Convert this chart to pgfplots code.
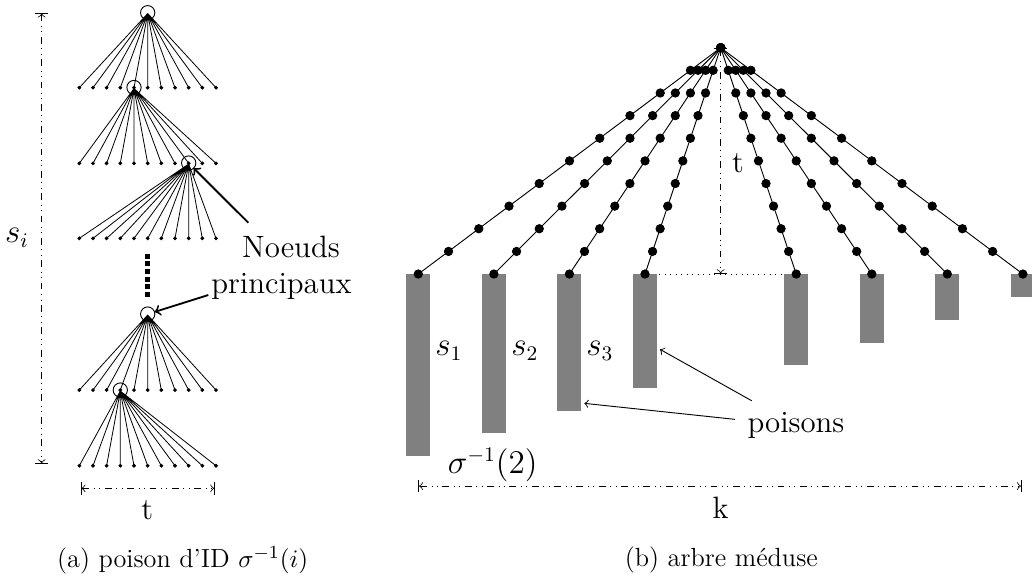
\documentclass[border=0pt]{standalone}
\usepackage{pgfplots}
\pgfplotsset{compat=1.18}
\newcommand{\dfont}{\fontsize{13.4}{16}\selectfont}
\newcommand{\cfont}{\fontsize{11.4}{13.5}\selectfont}
\begin{document}
\begin{tikzpicture}
\begin{axis}[
  width=448.1pt, height=252.3pt, scale only axis,
  xmin=0, xmax=1032, ymin=0, ymax=581, y dir=reverse,
  hide axis, clip=false,
]
% ---------- (a) fans ----------
\addplot[black, line width=0.35pt, line join=round, mark=none] coordinates {(79.3,87.7)(147.7,13.5)(93.0,87.7)(147.7,13.5)(106.6,87.7)(147.7,13.5)(120.3,87.7)(147.7,13.5)(134.0,87.7)(147.7,13.5)(147.7,87.7)(147.7,13.5)(161.3,87.7)(147.7,13.5)(175.0,87.7)(147.7,13.5)(188.7,87.7)(147.7,13.5)(202.3,87.7)(147.7,13.5)(216.0,87.7)};
\addplot[black, line width=0.35pt, line join=round, mark=none] coordinates {(79.3,163.3)(134.0,88.5)(93.0,163.3)(134.0,88.5)(106.6,163.3)(134.0,88.5)(120.3,163.3)(134.0,88.5)(134.0,163.3)(134.0,88.5)(147.7,163.3)(134.0,88.5)(161.3,163.3)(134.0,88.5)(175.0,163.3)(134.0,88.5)(188.7,163.3)(134.0,88.5)(202.3,163.3)(134.0,88.5)(216.0,163.3)};
\addplot[black, line width=0.35pt, line join=round, mark=none] coordinates {(79.3,238.3)(188.7,164.0)(93.0,238.3)(188.7,164.0)(106.6,238.3)(188.7,164.0)(120.3,238.3)(188.7,164.0)(134.0,238.3)(188.7,164.0)(147.7,238.3)(188.7,164.0)(161.3,238.3)(188.7,164.0)(175.0,238.3)(188.7,164.0)(188.7,238.3)(188.7,164.0)(202.3,238.3)(188.7,164.0)(216.0,238.3)};
\addplot[black, line width=0.35pt, line join=round, mark=none] coordinates {(79.3,390.0)(147.7,315.0)(93.0,390.0)(147.7,315.0)(106.6,390.0)(147.7,315.0)(120.3,390.0)(147.7,315.0)(134.0,390.0)(147.7,315.0)(147.7,390.0)(147.7,315.0)(161.3,390.0)(147.7,315.0)(175.0,390.0)(147.7,315.0)(188.7,390.0)(147.7,315.0)(202.3,390.0)(147.7,315.0)(216.0,390.0)};
\addplot[black, line width=0.35pt, line join=round, mark=none] coordinates {(79.3,465.7)(120.3,391.0)(93.0,465.7)(120.3,391.0)(106.6,465.7)(120.3,391.0)(120.3,465.7)(120.3,391.0)(134.0,465.7)(120.3,391.0)(147.7,465.7)(120.3,391.0)(161.3,465.7)(120.3,391.0)(175.0,465.7)(120.3,391.0)(188.7,465.7)(120.3,391.0)(202.3,465.7)(120.3,391.0)(216.0,465.7)};
% leaves
\addplot[only marks, mark=*, mark size=0.6pt, black] coordinates {
(79.3,87.7)(93.0,87.7)(106.6,87.7)(120.3,87.7)(134.0,87.7)(147.7,87.7)(161.3,87.7)(175.0,87.7)(188.7,87.7)(202.3,87.7)(216.0,87.7)
(79.3,163.3)(93.0,163.3)(106.6,163.3)(120.3,163.3)(134.0,163.3)(147.7,163.3)(161.3,163.3)(175.0,163.3)(188.7,163.3)(202.3,163.3)(216.0,163.3)
(79.3,238.3)(93.0,238.3)(106.6,238.3)(120.3,238.3)(134.0,238.3)(147.7,238.3)(161.3,238.3)(175.0,238.3)(188.7,238.3)(202.3,238.3)(216.0,238.3)
(79.3,390.0)(93.0,390.0)(106.6,390.0)(120.3,390.0)(134.0,390.0)(147.7,390.0)(161.3,390.0)(175.0,390.0)(188.7,390.0)(202.3,390.0)(216.0,390.0)
(79.3,465.7)(93.0,465.7)(106.6,465.7)(120.3,465.7)(134.0,465.7)(147.7,465.7)(161.3,465.7)(175.0,465.7)(188.7,465.7)(202.3,465.7)(216.0,465.7)};
% principal-node circles
\addplot[only marks, mark=o, mark size=3.1pt, black, mark options={line width=0.4pt}] coordinates {(147.7,12.7)(134.0,87.5)(188.7,163.0)(147.7,314.0)(120.3,390.0)};
% vertical dots
\addplot[only marks, mark=square*, mark size=0.85pt, black] coordinates {(147.7,256.0)(147.7,263.7)(147.7,271.3)(147.7,279.0)(147.7,286.7)(147.7,294.3)};
% arrows to principal nodes
\addplot[black, line width=0.8pt, ->] coordinates {(248.3,222.7)(193.5,168.0)};
\addplot[black, line width=0.8pt, ->] coordinates {(208.3,295.0)(154.6,311.9)};
% dimension lines (a)
\addplot[black, line width=0.35pt, |<->|, dash dot dot] coordinates {(41.7,12.7)(41.7,464.0)};
\addplot[black, line width=0.35pt, |<->|, dash dot dot] coordinates {(80.7,488.3)(215.0,488.3)};
% ---------- (b) medusa tree ----------
\addplot[black, line width=0.4pt, mark=*, mark size=1.8pt] coordinates {(720.7,47.7)(690.46,70.3)(660.22,92.96)(629.98,115.6)(599.74,138.2)(569.5,160.85)(539.26,183.5)(509.02,206.1)(478.78,228.7)(448.54,251.4)(418.3,274.0)};
\addplot[black, line width=0.4pt, mark=*, mark size=1.8pt] coordinates {(720.7,47.7)(698.02,70.3)(675.34,92.96)(652.66,115.6)(629.98,138.2)(607.3,160.85)(584.62,183.5)(561.94,206.1)(539.26,228.7)(516.58,251.4)(493.9,274.0)};
\addplot[black, line width=0.4pt, mark=*, mark size=1.8pt] coordinates {(720.7,47.7)(705.57,70.3)(690.44,92.96)(675.31,115.6)(660.18,138.2)(645.05,160.85)(629.92,183.5)(614.79,206.1)(599.66,228.7)(584.53,251.4)(569.4,274.0)};
\addplot[black, line width=0.4pt, mark=*, mark size=1.8pt] coordinates {(720.7,47.7)(713.13,70.3)(705.56,92.96)(697.99,115.6)(690.42,138.2)(682.85,160.85)(675.28,183.5)(667.71,206.1)(660.14,228.7)(652.57,251.4)(645.0,274.0)};
\addplot[black, line width=0.4pt, mark=*, mark size=1.8pt] coordinates {(720.7,47.7)(728.25,70.3)(735.8,92.96)(743.35,115.6)(750.9,138.2)(758.45,160.85)(766.0,183.5)(773.55,206.1)(781.1,228.7)(788.65,251.4)(796.2,274.0)};
\addplot[black, line width=0.4pt, mark=*, mark size=1.8pt] coordinates {(720.7,47.7)(735.81,70.3)(750.92,92.96)(766.03,115.6)(781.14,138.2)(796.25,160.85)(811.36,183.5)(826.47,206.1)(841.58,228.7)(856.69,251.4)(871.8,274.0)};
\addplot[black, line width=0.4pt, mark=*, mark size=1.8pt] coordinates {(720.7,47.7)(743.36,70.3)(766.02,92.96)(788.68,115.6)(811.34,138.2)(834.0,160.85)(856.66,183.5)(879.32,206.1)(901.98,228.7)(924.64,251.4)(947.3,274.0)};
\addplot[black, line width=0.4pt, mark=*, mark size=1.8pt] coordinates {(720.7,47.7)(750.92,70.3)(781.14,92.96)(811.36,115.6)(841.58,138.2)(871.8,160.85)(902.02,183.5)(932.24,206.1)(962.46,228.7)(992.68,251.4)(1022.9,274.0)};
% poison bars
\addplot[fill=gray, draw=none] coordinates {(406.3,274)(430.3,274)(430.3,456.0)(406.3,456.0)};
\addplot[fill=gray, draw=none] coordinates {(481.9,274)(505.9,274)(505.9,433.3)(481.9,433.3)};
\addplot[fill=gray, draw=none] coordinates {(557.4,274)(581.4,274)(581.4,410.7)(557.4,410.7)};
\addplot[fill=gray, draw=none] coordinates {(633.0,274)(657.0,274)(657.0,387.7)(633.0,387.7)};
\addplot[fill=gray, draw=none] coordinates {(784.2,274)(808.2,274)(808.2,365.3)(784.2,365.3)};
\addplot[fill=gray, draw=none] coordinates {(859.8,274)(883.8,274)(883.8,342.7)(859.8,342.7)};
\addplot[fill=gray, draw=none] coordinates {(935.3,274)(959.3,274)(959.3,320.0)(935.3,320.0)};
\addplot[fill=gray, draw=none] coordinates {(1010.9,274)(1032.0,274)(1032.0,297.3)(1010.9,297.3)};
% dotted baseline and dimension t
\addplot[black, line width=0.4pt, dotted] coordinates {(659.0,274.0)(782.0,274.0)};
\addplot[black, line width=0.35pt, |<->|, dash dot dot] coordinates {(720.7,47.7)(720.7,274.0)};
% k dimension
\addplot[black, line width=0.35pt, |<->|, dash dot dot] coordinates {(418.3,486.0)(1021.7,486.0)};
% poison arrows
\addplot[black, line width=0.4pt, ->] coordinates {(735.0,419.3)(584.3,403.3)};
\addplot[black, line width=0.4pt, ->] coordinates {(751.7,400.7)(660.0,349.3)};
% ---------- labels ----------
\node[font=\dfont] at (axis cs:17,238) {$s_i$};
\node[font=\dfont] at (axis cs:147.3,510) {t};
\node[font=\dfont, anchor=base] at (axis cs:291,257.7) {Noeuds};
\node[font=\dfont, anchor=base] at (axis cs:281.5,293) {principaux};
\node[font=\dfont] at (axis cs:738,163) {t};
\node[font=\dfont] at (axis cs:449,350.7) {$s_1$};
\node[font=\dfont] at (axis cs:525,350.7) {$s_2$};
\node[font=\dfont] at (axis cs:600,350.7) {$s_3$};
\node[font=\dfont] at (axis cs:492.7,465) {$\sigma^{-1}(2)$};
\node[font=\dfont] at (axis cs:796,425.8) {poisons};
\node[font=\dfont] at (axis cs:720.7,508) {k};
\node[font=\cfont, anchor=west, inner sep=0pt] at (axis cs:56.7,560) {(a) poison d'ID $\sigma^{-1}(i)$};
\node[font=\cfont, anchor=east, inner sep=0pt] at (axis cs:818.3,560) {(b) arbre méduse};
\end{axis}
\pgfresetboundingbox
\path (current axis.south west) rectangle (current axis.north east);
\end{tikzpicture}
\end{document}
